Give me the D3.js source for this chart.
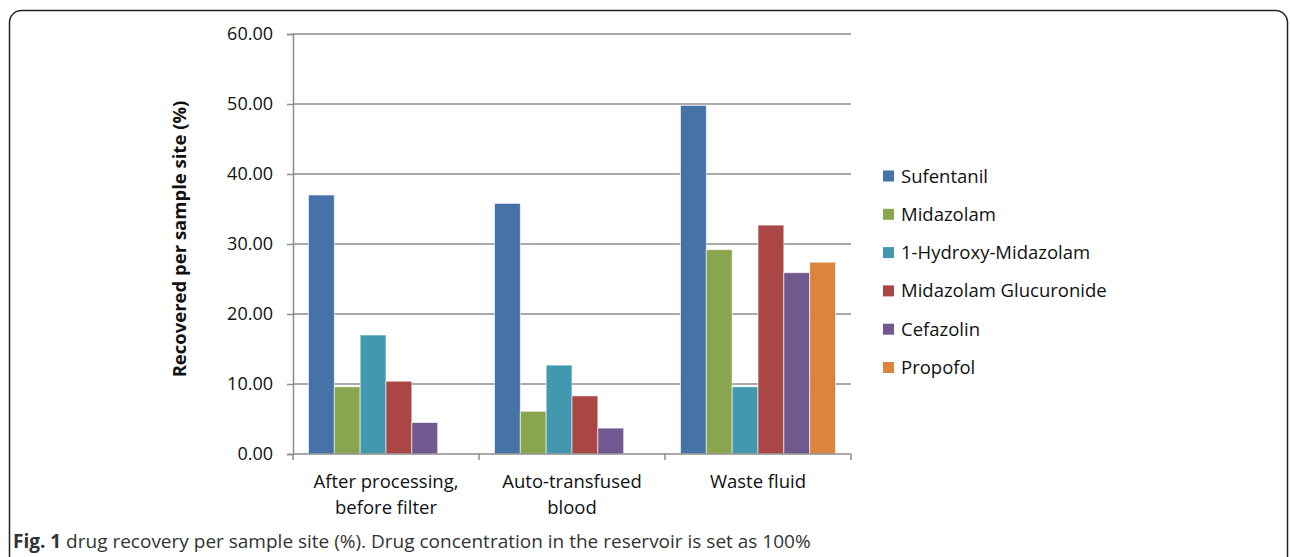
<!DOCTYPE html>
<html>
<head>
<meta charset="utf-8">
<script src="https://cdn.jsdelivr.net/npm/d3@7"></script>
<style>
body{margin:0;background:#fff;}
svg{display:block;font-family:"Open Sans",sans-serif;}
</style>
</head>
<body>
<div id="chart"></div>
<script>
// data
var categories = [["After processing,", "before filter"], ["Auto-transfused", "blood"], ["Waste fluid"]];
var drugs = ["Sufentanil", "Midazolam", "1-Hydroxy-Midazolam", "Midazolam Glucuronide", "Cefazolin", "Propofol"];
var sufentanil = [37.0, 35.8, 49.8];
var midazolam = [9.6, 6.1, 29.2];
var hydroxyMidazolam = [17.0, 12.7, 9.6];
var glucuronide = [10.4, 8.3, 32.7];
var cefazolin = [4.5, 3.7, 25.9];
var propofol = [null, null, 27.4];
var yTicks = [0, 10, 20, 30, 40, 50, 60];
var colors = ["#4572A7", "#89A54E", "#4198AF", "#AA4643", "#71588F", "#DB843D"];

var seriesValues = [sufentanil, midazolam, hydroxyMidazolam, glucuronide, cefazolin, propofol];

var W = 1290, H = 557;
var plot = {left: 293, right: 851, top: 34, bottom: 454};

var svg = d3.select("#chart").append("svg")
    .attr("width", W)
    .attr("height", H);

// frame
svg.append("rect")
    .attr("x", 9.5).attr("y", 10.5)
    .attr("width", 1278).attr("height", 600)
    .attr("rx", 12)
    .attr("fill", "none")
    .attr("stroke", "#222")
    .attr("stroke-width", 1.5);

var x0 = d3.scaleBand()
    .domain(d3.range(categories.length))
    .range([plot.left, plot.right]);

var x1 = d3.scaleBand()
    .domain(d3.range(drugs.length))
    .range([0, x0.bandwidth()])
    .paddingOuter(0.6);

var y = d3.scaleLinear()
    .domain([0, 60])
    .range([plot.bottom, plot.top]);

// gridlines
svg.append("g")
    .selectAll("line")
    .data(yTicks.slice(1))
    .join("line")
    .attr("x1", plot.left).attr("x2", plot.right)
    .attr("y1", d => y(d)).attr("y2", d => y(d))
    .attr("stroke", "#8c8c8c")
    .attr("stroke-width", 1.5);

// y axis
var yAxis = svg.append("g")
    .attr("transform", "translate(" + plot.left + ",0)")
    .call(d3.axisLeft(y).tickValues(yTicks).tickFormat(d3.format(".2f")).tickSize(6).tickPadding(14));
yAxis.selectAll("path, line").attr("stroke", "#8c8c8c").attr("stroke-width", 1.5);
yAxis.selectAll("text").attr("font-size", 18).attr("fill", "#111").attr("font-family", "Open Sans");

// bars
var groups = svg.append("g")
    .selectAll("g")
    .data(categories)
    .join("g")
    .attr("transform", (d, i) => "translate(" + x0(i) + ",0)");

groups.selectAll("rect")
    .data((d, i) => seriesValues.map((s, j) => ({j: j, v: s[i]})).filter(e => e.v != null))
    .join("rect")
    .attr("x", d => x1(d.j))
    .attr("y", d => y(d.v))
    .attr("width", x1.bandwidth())
    .attr("height", d => y(0) - y(d.v))
    .attr("fill", d => colors[d.j])
    .attr("stroke", "rgba(255,255,255,0.6)")
    .attr("stroke-width", 1);

// x axis
var xAxis = svg.append("g")
    .attr("transform", "translate(0," + plot.bottom + ")");
xAxis.append("line")
    .attr("x1", plot.left).attr("x2", plot.right)
    .attr("stroke", "#8c8c8c").attr("stroke-width", 1.5);
xAxis.selectAll("line.tick")
    .data(d3.range(categories.length + 1))
    .join("line")
    .attr("class", "tick")
    .attr("x1", d => plot.left + d * x0.bandwidth())
    .attr("x2", d => plot.left + d * x0.bandwidth())
    .attr("y1", 0).attr("y2", 6)
    .attr("stroke", "#8c8c8c").attr("stroke-width", 1.5);

xAxis.selectAll("text")
    .data(categories)
    .join("text")
    .attr("text-anchor", "middle")
    .attr("font-size", 18.5)
    .attr("fill", "#111")
    .attr("transform", (d, i) => "translate(" + (x0(i) + x0.bandwidth() / 2) + ",34)")
    .selectAll("tspan")
    .data(d => d)
    .join("tspan")
    .attr("x", 0)
    .attr("dy", (d, k) => k ? 26 : 0)
    .text(d => d);

// y title
svg.append("text")
    .attr("transform", "translate(186,239) rotate(-90)")
    .attr("text-anchor", "middle")
    .attr("font-size", 18.5)
    .attr("font-weight", "bold")
    .attr("fill", "#111")
    .text("Recovered per sample site (%)");

// legend
var legend = svg.append("g")
    .selectAll("g")
    .data(drugs)
    .join("g")
    .attr("transform", (d, i) => "translate(883," + (176 + i * 38.3) + ")");
legend.append("rect")
    .attr("x", 0).attr("y", -5.5)
    .attr("width", 11).attr("height", 11)
    .attr("fill", (d, i) => colors[i]);
legend.append("text")
    .attr("x", 18).attr("y", 6.5)
    .attr("font-size", 18.5)
    .attr("fill", "#111")
    .text(d => d);

// caption
var cap = svg.append("text")
    .attr("x", 13).attr("y", 548)
    .attr("font-size", 19)
    .attr("fill", "#333");
cap.append("tspan").attr("font-weight", "bold").text("Fig. 1");
cap.append("tspan").text(" drug recovery per sample site (%). Drug concentration in the reservoir is set as 100%");
</script>
</body>
</html>
